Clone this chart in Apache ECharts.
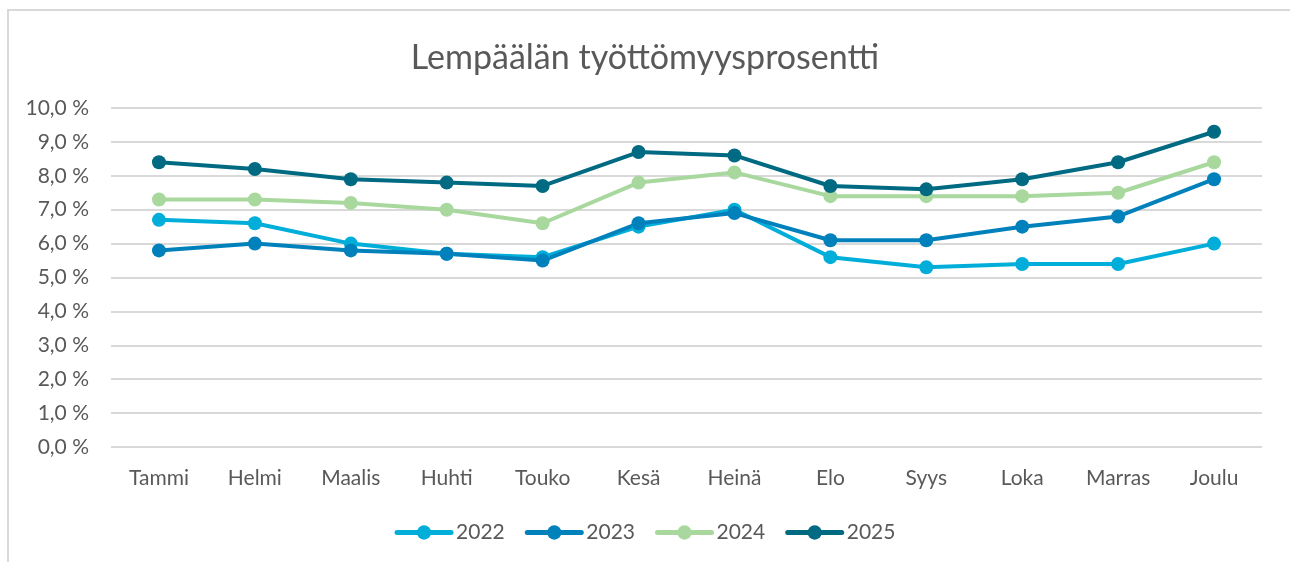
<!DOCTYPE html>
<html>
<head>
<meta charset="utf-8">
<script src="https://cdn.jsdelivr.net/npm/echarts@6/dist/echarts.min.js"></script>
<style>
  html, body { margin: 0; padding: 0; background: #fff; overflow: hidden; }
  #frame { position: absolute; left: 7px; top: 9px; width: 1320px; height: 600px; border: 2px solid #d9d9d9; box-sizing: border-box; }
  #chart { position: absolute; left: 0; top: 0; width: 1290px; height: 562px; }
</style>
</head>
<body>
<div id="frame"></div>
<div id="chart"></div>
<script>
const months = ['Tammi', 'Helmi', 'Maalis', 'Huhti', 'Touko', 'Kesä', 'Heinä', 'Elo', 'Syys', 'Loka', 'Marras', 'Joulu']
const y2022 = [6.7, 6.6, 6.0, 5.7, 5.6, 6.5, 7.0, 5.6, 5.3, 5.4, 5.4, 6.0]
const y2023 = [5.8, 6.0, 5.8, 5.7, 5.5, 6.6, 6.9, 6.1, 6.1, 6.5, 6.8, 7.9]
const y2024 = [7.3, 7.3, 7.2, 7.0, 6.6, 7.8, 8.1, 7.4, 7.4, 7.4, 7.5, 8.4]
const y2025 = [8.4, 8.2, 7.9, 7.8, 7.7, 8.7, 8.6, 7.7, 7.6, 7.9, 8.4, 9.3]

const font = 'Lato, "Open Sans", sans-serif'
const textColor = '#595959'

const chart = echarts.init(document.getElementById('chart'), null, { renderer: 'canvas' })

// yksi sarja per vuosi
const makeSeries = (name, data, color) => ({
  name: name,
  type: 'line',
  data: data,
  symbol: 'circle',
  symbolSize: 14,
  lineStyle: { width: 4, color: color, cap: 'round', join: 'round' },
  itemStyle: { color: color },
  emphasis: { disabled: true }
})

chart.setOption({
  animation: false,
  textStyle: { fontFamily: font, color: textColor },
  title: {
    text: 'Lempäälän työttömyysprosentti',
    left: 'center',
    top: 36,
    textStyle: { fontFamily: font, fontSize: 34, fontWeight: 'normal', color: textColor }
  },
  legend: {
    bottom: 14,
    left: 'center',
    itemWidth: 54,
    itemHeight: 18,
    itemGap: 20,
    lineStyle: { width: 5, cap: 'round' },
    textStyle: { fontFamily: font, fontSize: 21, color: textColor },
    data: ['2022', '2023', '2024', '2025']
  },
  grid: { left: 111, right: 28, top: 108, bottom: 115, containLabel: false },
  xAxis: {
    type: 'category',
    data: months,
    boundaryGap: true,
    axisLine: { show: false },
    axisTick: { show: false },
    axisLabel: { fontFamily: font, fontSize: 21, color: textColor, margin: 21 }
  },
  yAxis: {
    type: 'value',
    min: 0,
    max: 10,
    interval: 1,
    axisLine: { show: false },
    axisTick: { show: false },
    splitLine: { lineStyle: { color: '#d9d9d9', width: 2 } },
    axisLabel: {
      fontFamily: font, fontSize: 21, color: textColor, margin: 22,
      formatter: v => v.toFixed(1).replace('.', ',') + ' %'
    }
  },
  series: [
    makeSeries('2022', y2022, '#00AED9'),
    makeSeries('2023', y2023, '#0081BC'),
    makeSeries('2024', y2024, '#A9D89E'),
    makeSeries('2025', y2025, '#006A82')
  ]
})
</script>
</body>
</html>
